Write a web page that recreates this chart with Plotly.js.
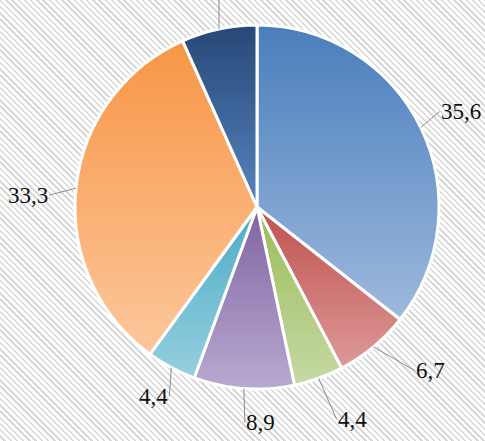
<!DOCTYPE html>
<html>
<head>
<meta charset="utf-8">
<script src="https://cdn.plot.ly/plotly-3.0.1.min.js"></script>
<style>
  html, body { margin: 0; padding: 0; }
  body {
    width: 485px; height: 441px; overflow: hidden;
    background: repeating-linear-gradient(45deg, #ffffff 0px, #ffffff 2.7px, #d9d9d9 2.7px, #d9d9d9 4.4px);
  }
  #chart { width: 485px; height: 441px; }
</style>
</head>
<body>
<div id="chart"></div>
<script>
// ---- data ----
const labels = ["A", "B", "C", "D", "E", "F", "G"];
const values = [35.6, 6.7, 4.4, 8.9, 4.4, 33.3, 6.7];
const valueText = ["35,6", "6,7", "4,4", "8,9", "4,4", "33,3", "6,7"];
const baseColors = ["#6d95c9", "#cf7573", "#b1cb84", "#9a85bb", "#6ebcd2", "#f9ad6e", "#3a6096"];
const gradTop = ["#4a7ebb", "#c0504d", "#9bbb59", "#8064a2", "#4bacc6", "#f79646", "#264877"];
const gradBottom = ["#9db9dd", "#dd9a98", "#c6d9a4", "#b7a9d0", "#96cfdf", "#fcc79c", "#5784be"];

// ---- label placement (pixel offsets of text from slice edge; null = label above the top edge) ----
const labelOffsets = [[19, -16], [42, 24], [18, 41], [1, 34], [-2, 29], [-27, 7], null];
const labelAnchors = ["left", "left", "left", "left", "right", "right", "left"];

const W = 485, H = 441;
const cx = 257, cy = 207, R = 182;
const labelFont = { family: "Liberation Serif, Times New Roman, serif", size: 23, color: "#111111" };

const total = values.reduce((a, b) => a + b, 0);
let cum = 0;
const annotations = [];
const shapes = [];
values.forEach((v, i) => {
  const mid = (cum + v / 2) / total * 2 * Math.PI;
  cum += v;
  const px = cx + R * Math.sin(mid);
  const py = cy - R * Math.cos(mid);
  const xp = px / W, yp = 1 - py / H;
  if (labelOffsets[i]) {
    annotations.push({
      x: xp, y: yp, xref: "paper", yref: "paper",
      text: valueText[i],
      showarrow: true, arrowhead: 0, arrowwidth: 1, arrowcolor: "#8c8c8c",
      ax: labelOffsets[i][0], ay: labelOffsets[i][1],
      xanchor: labelAnchors[i], yanchor: "middle",
      font: labelFont, borderpad: 0
    });
  } else {
    // leader line runs straight up out of the picture; its label sits above the top edge
    shapes.push({
      type: "line", xref: "paper", yref: "paper",
      x0: xp, y0: yp, x1: xp, y1: 1,
      line: { color: "#8c8c8c", width: 1 }
    });
    annotations.push({
      x: xp, y: 1, xref: "paper", yref: "paper",
      text: valueText[i], showarrow: false,
      xanchor: labelAnchors[i], yanchor: "bottom", yshift: 4,
      font: labelFont, borderpad: 0
    });
  }
});

const data = [{
  type: "pie",
  labels: labels,
  values: values,
  sort: false,
  direction: "clockwise",
  rotation: 0,
  textinfo: "none",
  hoverinfo: "none",
  marker: { colors: baseColors, line: { color: "#ffffff", width: 3 } },
  domain: { x: [(cx - R) / W, (cx + R) / W], y: [1 - (cy + R) / H, 1 - (cy - R) / H] },
  showlegend: false
}];

const layout = {
  width: W, height: H,
  margin: { l: 0, r: 0, t: 0, b: 0 },
  paper_bgcolor: "rgba(0,0,0,0)",
  plot_bgcolor: "rgba(0,0,0,0)",
  showlegend: false,
  annotations: annotations,
  shapes: shapes
};

Plotly.newPlot("chart", data, layout, { staticPlot: true, displayModeBar: false }).then(gd => {
  const NS = "http://www.w3.org/2000/svg";
  const svg = gd.querySelector("svg.main-svg");
  let defs = svg.querySelector("defs");
  if (!defs) { defs = document.createElementNS(NS, "defs"); svg.insertBefore(defs, svg.firstChild); }
  gd.querySelectorAll("g.slice path.surface").forEach((p, i) => {
    const g = document.createElementNS(NS, "linearGradient");
    g.setAttribute("id", "sliceGrad" + i);
    g.setAttribute("x1", "0"); g.setAttribute("y1", "0");
    g.setAttribute("x2", "0"); g.setAttribute("y2", "1");
    [[0, gradTop[i]], [1, gradBottom[i]]].forEach(([o, c]) => {
      const s = document.createElementNS(NS, "stop");
      s.setAttribute("offset", o);
      s.setAttribute("stop-color", c);
      g.appendChild(s);
    });
    defs.appendChild(g);
    p.style.fill = "url(#sliceGrad" + i + ")";
  });
});
</script>
</body>
</html>
